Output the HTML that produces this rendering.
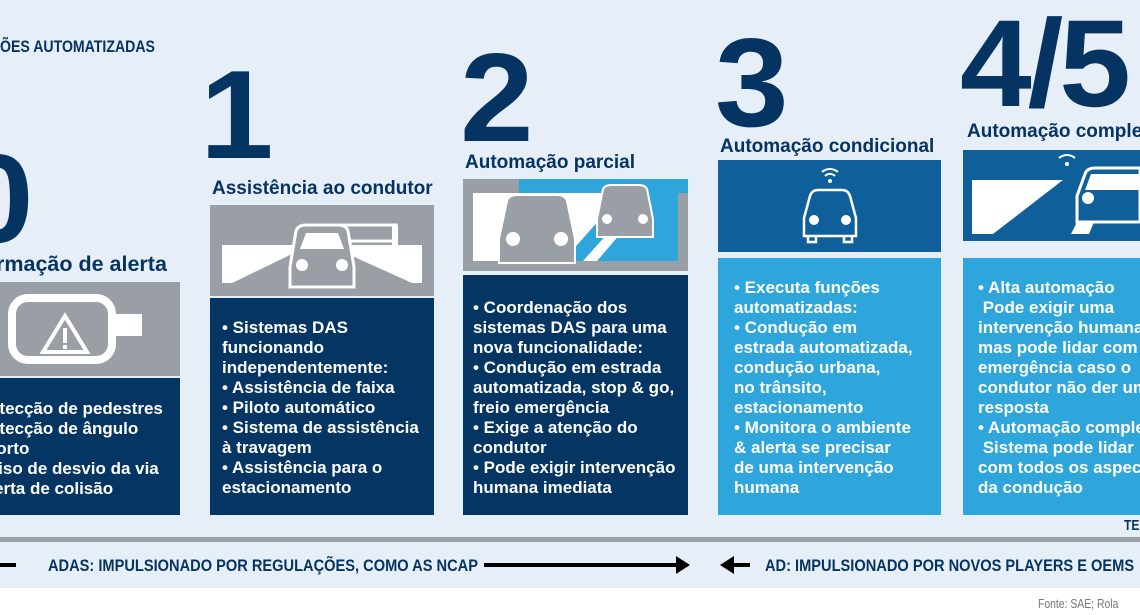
<!DOCTYPE html>
<html><head><meta charset="utf-8"><style>
*{margin:0;padding:0;box-sizing:border-box}
body{width:1140px;height:615px;overflow:hidden;position:relative;background:#fff;font-family:"Liberation Sans",sans-serif}
.bg{position:absolute;left:0;top:0;width:1140px;height:588px;background:#e6eef8}
.a{position:absolute}
.num{position:absolute;font-weight:bold;color:#063462;line-height:1;transform-origin:left top}
.t{position:absolute;font-weight:bold;color:#063462;font-size:19px;white-space:nowrap}
.box{position:absolute;color:#fff;font-weight:bold;font-size:17px;line-height:20px;white-space:nowrap;overflow:hidden}
.dk{background:#053563}
.lt{background:#2ea5db}
.cn{position:absolute;font-weight:bold;color:#063462;white-space:nowrap;transform-origin:left top}
</style></head><body>
<div class="bg"></div>
<div class="cn" style="left:0;top:37px;font-size:17px;transform:scaleX(0.83)">ÕES AUTOMATIZADAS</div>

<div class="num" style="left:-40px;top:136px;font-size:126px;transform:scaleX(1.05)">0</div>
<div class="num" style="left:200px;top:52px;font-size:126px;transform:scaleX(1.05)">1</div>
<div class="num" style="left:460px;top:35px;font-size:126px;transform:scaleX(1.05)">2</div>
<div class="num" style="left:715px;top:20px;font-size:126px;transform:scaleX(1.05)">3</div>
<div class="num" style="left:960px;top:2px;font-size:124px;letter-spacing:-4px;transform:scaleX(1.04)">4/5</div>

<div class="t" style="left:-4px;top:252px;font-size:21.5px">rmação de alerta</div>
<div class="t" style="left:212px;top:178px">Assistência ao condutor</div>
<div class="t" style="left:465px;top:152px">Automação parcial</div>
<div class="t" style="left:720px;top:136px">Automação condicional</div>
<div class="t" style="left:967px;top:121px">Automação completa</div>

<div class="a" style="left:0;top:282px;width:180px;height:94px;background:#9a9ea5">
<svg width="180" height="94"><rect x="12" y="16" width="100" height="62" rx="16" fill="none" stroke="#fff" stroke-width="8"/><rect x="108" y="32" width="34" height="22" fill="#fff"/><polygon points="43,70 65,34 87,70" fill="none" stroke="#fff" stroke-width="4"/><rect x="63" y="46" width="4" height="15" fill="#fff"/><rect x="63" y="63" width="4" height="4" fill="#fff"/></svg></div>
<div class="box dk" style="left:0;top:378px;width:180px;height:137px;padding:21px 0 0 0"><div style="margin-left:-33px">• Detecção de pedestres<br>• Detecção de ângulo<br>&nbsp;&nbsp;&nbsp;morto<br>• Aviso de desvio da via<br>• Alerta de colisão</div></div>

<div class="a" style="left:210px;top:205px;width:224px;height:91px;background:#9a9ea5">
<svg width="224" height="91"><polygon points="12,40 212,40 212,78 12,78" fill="#fff"/><polygon points="22,78 80,50 140,50 202,78" fill="#9a9ea5"/><polygon points="92,78 98,60 126,60 132,78" fill="#fff"/><rect x="112" y="20" width="74" height="16" fill="none" stroke="#fff" stroke-width="3"/><rect x="182" y="20" width="6" height="28" fill="#fff"/><path d="M80 62 L86 26 Q88 20 96 20 L128 20 Q136 20 138 26 L144 62 L144 82 L80 82 Z" fill="#9a9ea5" stroke="#fff" stroke-width="3"/><circle cx="92" cy="60" r="6" fill="#fff"/><circle cx="132" cy="60" r="6" fill="#fff"/><polygon points="90,44 96,28 128,28 134,44" fill="#fff"/></svg></div>
<div class="box dk" style="left:210px;top:298px;width:224px;height:217px;padding:20px 0 0 12px">• Sistemas DAS<br>funcionando<br>independentemente:<br>• Assistência de faixa<br>• Piloto automático<br>• Sistema de assistência<br>à travagem<br>• Assistência para o<br>estacionamento</div>

<div class="a" style="left:463px;top:179px;width:225px;height:92px;background:#9a9ea5">
<svg width="225" height="92"><rect x="56" y="0" width="169" height="14" fill="#2ea5db"/><rect x="10" y="14" width="205" height="68" fill="#fff"/><polygon points="100,82 160,14 215,14 215,82" fill="#2ea5db"/><polygon points="120,82 134,82 182,26 170,26" fill="#fff"/><path d="M36 60 L44 22 Q46 16 54 16 L94 16 Q102 16 104 22 L112 60 L112 84 L36 84 Z" fill="#9a9ea5" stroke="#fff" stroke-width="2"/><circle cx="50" cy="60" r="7" fill="#fff"/><circle cx="98" cy="60" r="7" fill="#fff"/><path d="M134 40 L140 10 Q142 6 148 6 L176 6 Q182 6 184 10 L190 40 L190 58 L134 58 Z" fill="#9a9ea5" stroke="#fff" stroke-width="2"/><circle cx="144" cy="40" r="5" fill="#fff"/><circle cx="180" cy="40" r="5" fill="#fff"/></svg></div>
<div class="box dk" style="left:463px;top:275px;width:225px;height:240px;padding:23px 0 0 10px">• Coordenação dos<br>sistemas DAS para uma<br>nova funcionalidade:<br>• Condução em estrada<br>automatizada, stop &amp; go,<br>freio emergência<br>• Exige a atenção do<br>condutor<br>• Pode exigir intervenção<br>humana imediata</div>

<div class="a" style="left:718px;top:160px;width:223px;height:92px;background:#0f5f9a">
<svg width="223" height="92"><path d="M104 12 a12 12 0 0 1 16 0" fill="none" stroke="#fff" stroke-width="2"/><path d="M107 16 a7 7 0 0 1 10 0" fill="none" stroke="#fff" stroke-width="2"/><circle cx="112" cy="21" r="2" fill="#fff"/><path d="M86 58 L92 36 Q94 30 100 30 L124 30 Q130 30 132 36 L138 58 L138 76 L86 76 Z M90 76 L90 82 L98 82 L98 76 M126 76 L126 82 L134 82 L134 76" fill="none" stroke="#fff" stroke-width="2.5"/><circle cx="96" cy="60" r="5" fill="#fff"/><circle cx="128" cy="60" r="5" fill="#fff"/></svg></div>
<div class="box lt" style="left:718px;top:258px;width:223px;height:257px;padding:20px 0 0 16px">• Executa funções<br>automatizadas:<br>• Condução em<br>estrada automatizada,<br>condução urbana,<br>no trânsito,<br>estacionamento<br>• Monitora o ambiente<br>&amp; alerta se precisar<br>de uma intervenção<br>humana</div>

<div class="a" style="left:963px;top:150px;width:177px;height:91px;background:#0f5f9a">
<svg width="177" height="91"><polygon points="9,30 100,30 30,84 9,84" fill="#fff"/><polygon points="120,60 136,60 126,84 108,84" fill="#fff"/><path d="M96 8 a12 12 0 0 1 16 0" fill="none" stroke="#fff" stroke-width="2"/><circle cx="104" cy="14" r="2" fill="#fff"/><path d="M114 46 L122 24 Q124 18 132 18 L177 18 L177 72 L114 72 Z" fill="#0f5f9a" stroke="#fff" stroke-width="3"/><circle cx="125" cy="48" r="6" fill="#fff"/><polygon points="122,40 128,24 177,24 177,40" fill="#fff"/></svg></div>
<div class="box lt" style="left:963px;top:258px;width:177px;height:257px;padding:20px 0 0 15px">• Alta automação<br>&nbsp;Pode exigir uma<br>intervenção humana,<br>mas pode lidar com<br>emergência caso o<br>condutor não der uma<br>resposta<br>• Automação completa<br>&nbsp;Sistema pode lidar<br>com todos os aspectos<br>da condução</div>

<div class="cn" style="left:1124px;top:517px;font-size:15px;transform:scaleX(0.8)">TE</div>

<div class="a" style="left:0;top:537px;width:1140px;height:5px;background:#9ba0a6"></div>
<div class="a" style="left:0;top:563px;width:16px;height:4px;background:#000"></div>
<div class="cn" style="left:48px;top:556px;font-size:17px;transform:scaleX(0.86)">ADAS: IMPULSIONADO POR REGULAÇÕES, COMO AS NCAP</div>
<div class="a" style="left:484px;top:563px;width:196px;height:4px;background:#000"></div>
<svg class="a" style="left:676px;top:556px" width="16" height="18"><polygon points="0,0 14,9 0,18" fill="#000"/></svg>
<svg class="a" style="left:718px;top:556px" width="16" height="18"><polygon points="16,0 2,9 16,18" fill="#000"/></svg>
<div class="a" style="left:730px;top:563px;width:20px;height:4px;background:#000"></div>
<div class="cn" style="left:765px;top:556px;font-size:17px;transform:scaleX(0.86)">AD: IMPULSIONADO POR NOVOS PLAYERS E OEMS</div>
<div class="cn" style="left:1038px;top:596px;color:#777;font-weight:normal;font-size:13px;transform:scaleX(0.8)">Fonte: SAE; Rola</div>
</body></html>
